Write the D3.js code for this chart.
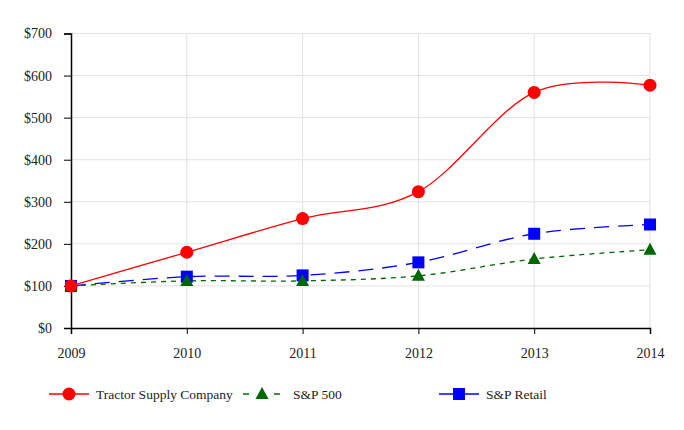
<!DOCTYPE html>
<html lang="en">
<head>
    <meta charset="UTF-8">
    <title>Cumulative Total Return</title>
    <script src="https://d3js.org/d3.v7.min.js"></script>
    <style>
        body { margin: 0; background: #fff; }
        text { font-family: "Liberation Serif", "Times New Roman", serif; fill: #222; }
    </style>
</head>
<body>
    <svg width="684" height="430"></svg>
    <script>
        // data
        const years = ["2009", "2010", "2011", "2012", "2013", "2014"];
        const tractorSupply = [100, 180, 260, 324, 560, 577];
        const sp500 = [100, 112, 112, 124, 164, 186];
        const spRetail = [100, 122, 125, 156, 224, 246];
        const yTicks = [0, 100, 200, 300, 400, 500, 600, 700];

        const series = [
            { name: "Tractor Supply Company", values: tractorSupply, color: "#ff0000", dash: null, marker: "circle", lx: 49 },
            { name: "S&P 500", values: sp500, color: "#006600", dash: "5,5", marker: "triangle", lx: 243 },
            { name: "S&P Retail", values: spRetail, color: "#0000ff", dash: "15,9", marker: "square", lx: 439 }
        ];

        const svg = d3.select("svg");
        const plotLeft = 71, plotRight = 650, plotTop = 33.5, plotBottom = 328;

        const x = d3.scalePoint().domain(years).range([plotLeft, plotRight]);
        const y = d3.scaleLinear().domain([0, 700]).range([plotBottom, plotTop]);

        // grid
        svg.append("g").selectAll("line").data(yTicks.slice(1)).join("line")
            .attr("x1", plotLeft).attr("x2", plotRight)
            .attr("y1", d => y(d)).attr("y2", d => y(d))
            .attr("stroke", "#e2e2e2").attr("stroke-width", 1);
        svg.append("g").selectAll("line").data(years.slice(1)).join("line")
            .attr("x1", d => x(d)).attr("x2", d => x(d))
            .attr("y1", plotTop).attr("y2", plotBottom)
            .attr("stroke", "#e2e2e2").attr("stroke-width", 1);

        // axes
        const yAxis = svg.append("g").attr("transform", `translate(${plotLeft},0)`)
            .call(d3.axisLeft(y).tickValues(yTicks).tickFormat(d => "$" + d).tickSize(7).tickPadding(12));
        const xAxis = svg.append("g").attr("transform", `translate(0,${plotBottom})`)
            .call(d3.axisBottom(x).tickSize(6).tickPadding(14));
        [xAxis, yAxis].forEach(a => {
            a.attr("font-family", "Liberation Serif").attr("font-size", 14);
            a.select(".domain").attr("stroke", "#000").attr("stroke-width", 1.5);
            a.selectAll(".tick line").attr("stroke", "#000");
            a.selectAll(".tick text").attr("fill", "#2a2a2a");
        });

        const line = d3.line()
            .x((d, i) => x(years[i]))
            .y(d => y(d))
            .curve(d3.curveCardinal.tension(0));

        function drawMarker(g, type, cx, cy, color) {
            if (type === "circle") {
                g.append("circle").attr("cx", cx).attr("cy", cy).attr("r", 6.5).attr("fill", color);
            } else if (type === "square") {
                g.append("rect").attr("x", cx - 6).attr("y", cy - 6).attr("width", 12).attr("height", 12).attr("fill", color);
            } else {
                g.append("path")
                    .attr("d", `M${cx},${cy - 7}L${cx + 6.5},${cy + 5}L${cx - 6.5},${cy + 5}Z`)
                    .attr("fill", color);
            }
        }

        // draw back to front: retail, sp500, tractor supply
        [series[2], series[1], series[0]].forEach(s => {
            svg.append("path").datum(s.values)
                .attr("d", line)
                .attr("fill", "none")
                .attr("stroke", s.color)
                .attr("stroke-width", 1.3)
                .attr("stroke-dasharray", s.dash);
        });
        [series[2], series[1], series[0]].forEach(s => {
            const g = svg.append("g");
            s.values.forEach((v, i) => drawMarker(g, s.marker, x(years[i]), y(v), s.color));
        });

        // legend
        const ly = 394;
        series.forEach(s => {
            const g = svg.append("g");
            if (s.marker === "triangle") {
                g.append("line").attr("x1", s.lx).attr("x2", s.lx + 6).attr("y1", ly).attr("y2", ly)
                    .attr("stroke", s.color).attr("stroke-width", 1.5);
                g.append("line").attr("x1", s.lx + 31).attr("x2", s.lx + 37).attr("y1", ly).attr("y2", ly)
                    .attr("stroke", s.color).attr("stroke-width", 1.5);
                drawMarker(g, s.marker, s.lx + 19, ly, s.color);
                g.append("text").attr("x", s.lx + 50).attr("y", ly + 4.5).attr("font-size", 13.5).text(s.name);
            } else {
                g.append("line").attr("x1", s.lx).attr("x2", s.lx + 40).attr("y1", ly).attr("y2", ly)
                    .attr("stroke", s.color).attr("stroke-width", 1.5);
                drawMarker(g, s.marker, s.lx + 20, ly, s.color);
                g.append("text").attr("x", s.lx + 47).attr("y", ly + 4.5).attr("font-size", 13.5).text(s.name);
            }
        });
    </script>
</body>
</html>
